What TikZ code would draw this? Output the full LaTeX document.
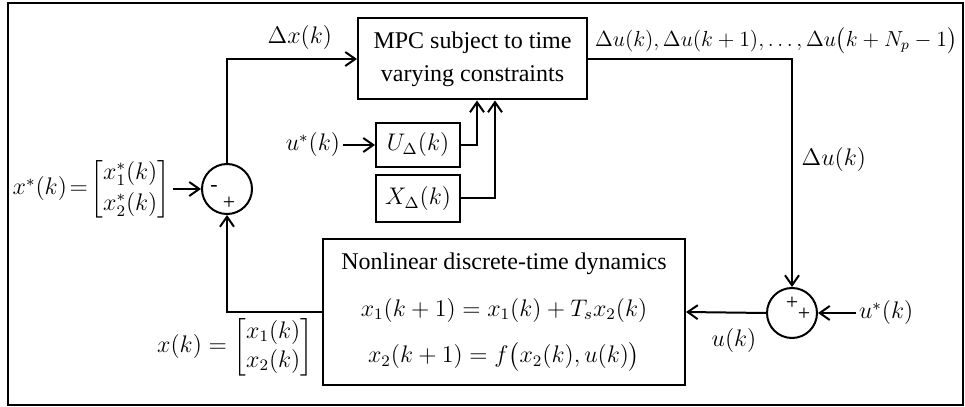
\documentclass[tikz,border=0pt]{standalone}
\usepackage{amsmath}
\usepackage{fontspec}
\setmainfont{Liberation Serif}
\usetikzlibrary{arrows.meta,positioning}

\begin{document}
\begin{tikzpicture}[x=0.5pt, y=0.5pt, line width=1pt,
    >={Straight Barb[length=5pt,width=7pt]},
    every node/.append style={font=\fontsize{12}{14.4}\selectfont},
    blk/.style={draw, align=center, inner sep=0pt},
    sumnode/.style={draw, circle, minimum size=25pt, inner sep=0pt},
    sgn/.style={font=\fontsize{11}{11}\selectfont, inner sep=0pt}]
  \useasboundingbox (0,0) rectangle (965,407);
  \draw (8,2) rectangle (963,404);
  % controller and constraint blocks
  \node[blk, minimum width=114.5pt, minimum height=40.5pt] (mpc) at (472.5,348)
       {MPC subject to time\\[2pt] varying constraints};
  \node[blk, minimum width=42pt, minimum height=22pt] (ubox) at (418,262) {$U_\Delta(k)$};
  \node[blk, minimum width=42pt, minimum height=23.5pt] (xbox) at (418,208.5) {$X_\Delta(k)$};
  % plant
  \node[blk, minimum width=181pt, minimum height=73pt] (plant) at (504,95)
       {Nonlinear discrete-time dynamics\\[9pt]
        $x_1(k+1)=x_1(k)+T_sx_2(k)$\\[9pt]
        $x_2(k+1)=f\big(x_2(k),u(k)\big)$};
  % summing junctions
  \node[sumnode] (s1) at (227,218) {};
  \node[sgn] (s1m) at (214,218) {-};
  \node[sgn] (s1p) at (229,204) {+};
  \node[sumnode] (s2) at (792,94) {};
  \node[sgn] (s2p) at (792,104) {+};
  \node[sgn] (s2q) at (804,93) {+};
  % signals
  \node[anchor=east, inner sep=1pt] (xref) at (173,218)
       {$\thickmuskip=2mu x^*(k)=\begin{bmatrix}x_1^*(k)\\[1pt] x_2^*(k)\end{bmatrix}$};
  \node[anchor=east, inner sep=1pt] (ustar) at (343,262) {$u^*(k)$};
  \node[anchor=west, inner sep=1pt] (ustar2) at (856,94) {$u^*(k)$};
  \node[anchor=east, inner sep=1pt] (xk) at (316,60)
       {$x(k)=\begin{bmatrix}x_1(k)\\ x_2(k)\end{bmatrix}$};
  \coordinate (uin) at (477,0);
  \coordinate (xin) at (495,0);
  \draw[->] (xref.east) -- (s1.west);
  \draw[->] (s1.north) |- (mpc.west) node[pos=0.78, above=1pt] {$\Delta x(k)$};
  \draw[->] (ustar.east) -- (ubox.west);
  \draw[->] (ubox.east) -| (uin |- mpc.south);
  \draw[->] (xbox.east) -| (xin |- mpc.south);
  \draw[->] (mpc.east) -| (s2.north)
       node[pos=0.01, anchor=south west, inner sep=1pt, yshift=1pt]
       {\resizebox{181pt}{!}{$\Delta u(k),\Delta u(k+1),\ldots,\Delta u\big(k+N_p-1\big)$}}
       node[pos=0.72, right=1pt] {$\Delta u(k)$};
  \draw[->] (ustar2.west) -- (s2.east);
  \draw[->] (s2.west) -- (plant.east) node[pos=0.4, below=4pt] {$u(k)$};
  \draw[->] (plant.west) -| (s1.south);
\end{tikzpicture}
\end{document}
